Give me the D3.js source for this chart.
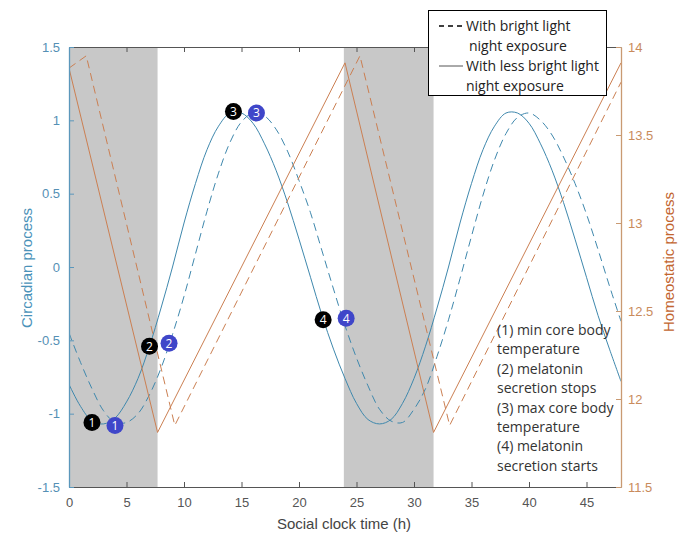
<!DOCTYPE html>
<html>
<head>
<meta charset="utf-8">
<script src="https://cdn.jsdelivr.net/npm/d3@7"></script>
<style>
  html, body { margin: 0; padding: 0; background: #fff; }
  svg { display: block; }
</style>
</head>
<body>
<svg id="chart" width="678" height="536"></svg>
<script>
// ---------- DATA ----------
const hours = d3.range(0, 49); // 0..48 h
const circadianLess = [-0.80,-0.95,-1.05,-1.07,-1.03,-0.92,-0.76,-0.54,-0.28,0.00,0.30,0.57,0.80,0.96,1.05,1.05,0.98,0.84,0.66,0.44,0.19,-0.07,-0.33,-0.56,-0.76,-0.93,-1.04,-1.07,-1.04,-0.93,-0.76,-0.54,-0.28,0.00,0.30,0.57,0.80,0.96,1.05,1.05,0.98,0.84,0.66,0.44,0.19,-0.07,-0.33,-0.56,-0.78];
const circadianBright = [-0.45,-0.65,-0.83,-0.98,-1.06,-1.06,-1.00,-0.87,-0.69,-0.46,-0.20,0.09,0.38,0.64,0.85,0.99,1.05,1.03,0.94,0.79,0.59,0.37,0.11,-0.15,-0.40,-0.62,-0.81,-0.97,-1.05,-1.06,-0.97,-0.83,-0.61,-0.36,-0.08,0.21,0.49,0.73,0.91,1.02,1.05,1.00,0.90,0.75,0.57,0.36,0.12,-0.13,-0.37];

const homeoLessX = [0, 7.7, 24.0, 31.7, 48];
const homeoLessY = [13.88, 11.81, 13.91, 11.81, 13.91];
const homeoBrightX = [0, 1.5, 9.2, 25.3, 33.1, 48];
const homeoBrightY = [13.88, 13.95, 11.85, 13.95, 11.85, 13.80];

const nights = [[0, 7.7], [23.9, 31.7]];

const markerLabels = ["1", "2", "3", "4"];
const markerLessX = [2.0, 7.0, 14.3, 22.1];
const markerLessY = [-1.06, -0.54, 1.06, -0.36];
const markerBrightX = [4.0, 8.7, 16.3, 24.1];
const markerBrightY = [-1.08, -0.52, 1.05, -0.35];

const xTicks = [0, 5, 10, 15, 20, 25, 30, 35, 40, 45];
const yLeftTicks = [-1.5, -1, -0.5, 0, 0.5, 1, 1.5];
const yRightTicks = [11.5, 12, 12.5, 13, 13.5, 14];

const legendLines = [
  {dash: true, text1: "With bright light", text2: "night exposure"},
  {dash: false, text1: "With less bright light", text2: "night exposure"}
];
const notes = ["(1) min core body", "temperature", "(2) melatonin", "secretion stops",
               "(3) max core body", "temperature", "(4) melatonin", "secretion starts"];

// ---------- LAYOUT ----------
const L = 69, R = 621, T = 47, B = 487;
const blueLine = "#3f88ad", orangeLine = "#cb7f52";
const blueAxis = "#5b97bb", orangeAxis = "#c99a72";
const svg = d3.select("#chart");

const x = d3.scaleLinear().domain([0, 48]).range([L, R]);
const yL = d3.scaleLinear().domain([-1.5, 1.5]).range([B, T]);
const yR = d3.scaleLinear().domain([11.5, 14]).range([B, T]);

svg.append("defs").append("clipPath").attr("id", "clip")
  .append("rect").attr("x", L).attr("y", T).attr("width", R - L).attr("height", B - T);

// shading
svg.append("g").selectAll("rect").data(nights).join("rect")
  .attr("x", d => x(d[0])).attr("y", T)
  .attr("width", d => x(d[1]) - x(d[0])).attr("height", B - T)
  .attr("fill", "#c8c8c8");

const plot = svg.append("g").attr("clip-path", "url(#clip)");

const lineC = d3.line().x(d => x(d[0])).y(d => yL(d[1])).curve(d3.curveCatmullRom);
const lineH = d3.line().x(d => x(d[0])).y(d => yR(d[1]));

plot.append("path").datum(hours.map((h, i) => [h, circadianLess[i]]))
  .attr("d", lineC).attr("fill", "none").attr("stroke", blueLine).attr("stroke-width", 1);
plot.append("path").datum(hours.map((h, i) => [h, circadianBright[i]]))
  .attr("d", lineC).attr("fill", "none").attr("stroke", blueLine).attr("stroke-width", 1)
  .attr("stroke-dasharray", "8,5");
plot.append("path").datum(homeoLessX.map((h, i) => [h, homeoLessY[i]]))
  .attr("d", lineH).attr("fill", "none").attr("stroke", orangeLine).attr("stroke-width", 1);
plot.append("path").datum(homeoBrightX.map((h, i) => [h, homeoBrightY[i]]))
  .attr("d", lineH).attr("fill", "none").attr("stroke", orangeLine).attr("stroke-width", 1)
  .attr("stroke-dasharray", "8,5");

// axes
const fmt = d => String(d);
const axFont = "'Liberation Sans', Arial, sans-serif";

const gx = svg.append("g").attr("transform", `translate(0,${B})`)
  .call(d3.axisBottom(x).tickValues(xTicks).tickFormat(fmt).tickSizeInner(-5).tickSizeOuter(0).tickPadding(11));
const gxt = svg.append("g").attr("transform", `translate(0,${T})`)
  .call(d3.axisTop(x).tickValues(xTicks).tickFormat("").tickSizeInner(-5).tickSizeOuter(0));
[gx, gxt].forEach(g => {
  g.select(".domain").attr("stroke", "#555");
  g.selectAll(".tick line").attr("stroke", "#555");
  g.selectAll("text").attr("fill", "#555").style("font-family", axFont).style("font-size", "13px");
});

const gl = svg.append("g").attr("transform", `translate(${L},0)`)
  .call(d3.axisLeft(yL).tickValues(yLeftTicks).tickFormat(fmt).tickSizeInner(-5).tickSizeOuter(0).tickPadding(9));
gl.select(".domain").attr("stroke", blueAxis).attr("stroke-width", 1.3);
gl.selectAll(".tick line").attr("stroke", blueAxis);
gl.selectAll("text").attr("fill", "#5590b5").style("font-family", axFont).style("font-size", "13px");

const gr = svg.append("g").attr("transform", `translate(${R},0)`)
  .call(d3.axisRight(yR).tickValues(yRightTicks).tickFormat(fmt).tickSizeInner(-5).tickSizeOuter(0).tickPadding(7));
gr.select(".domain").attr("stroke", orangeAxis).attr("stroke-width", 1.3);
gr.selectAll(".tick line").attr("stroke", orangeAxis);
gr.selectAll("text").attr("fill", "#c98b5c").style("font-family", axFont).style("font-size", "13px");

// axis titles
svg.append("text").attr("x", 344).attr("y", 529).attr("text-anchor", "middle")
  .attr("fill", "#444").style("font-family", axFont).style("font-size", "15px")
  .text("Social clock time (h)");
svg.append("text").attr("transform", "translate(32,268) rotate(-90)").attr("text-anchor", "middle")
  .attr("fill", "#4a92b9").style("font-family", axFont).style("font-size", "15px")
  .text("Circadian process");
svg.append("text").attr("transform", "translate(674,262) rotate(-90)").attr("text-anchor", "middle")
  .attr("fill", "#c2652f").style("font-family", axFont).style("font-size", "15px")
  .text("Homeostatic process");

// markers
function drawMarkers(xs, ys, color) {
  const g = svg.append("g").selectAll("g").data(markerLabels).join("g")
    .attr("transform", (d, i) => `translate(${x(xs[i])},${yL(ys[i])})`);
  g.append("circle").attr("r", 8.5).attr("fill", color);
  g.append("text").attr("text-anchor", "middle").attr("dy", "0.36em")
    .attr("fill", "#fff").style("font-family", "'Open Sans', sans-serif").style("font-size", "12px")
    .text(d => d);
}
drawMarkers(markerLessX, markerLessY, "#000");
drawMarkers(markerBrightX, markerBrightY, "#3f46c9");

// annotation text
const noteFont = "'Open Sans', sans-serif";
svg.append("g").selectAll("text").data(notes).join("text")
  .attr("x", 497).attr("y", (d, i) => 335 + i * 19.4)
  .attr("fill", "#333").style("font-family", noteFont).style("font-size", "14px")
  .text(d => d);

// legend
const lg = svg.append("g");
lg.append("rect").attr("x", 428.5).attr("y", 10.5).attr("width", 178).attr("height", 85)
  .attr("fill", "#fff").attr("stroke", "#000").attr("stroke-width", 1);
legendLines.forEach((d, i) => {
  const y0 = 26 + i * 40;
  lg.append("line").attr("x1", 439).attr("x2", 463).attr("y1", y0).attr("y2", y0)
    .attr("stroke", d.dash ? "#000" : "#555").attr("stroke-width", d.dash ? 1.5 : 1)
    .attr("stroke-dasharray", d.dash ? "5,4" : null);
  lg.append("text").attr("x", 466).attr("y", y0 + 5).attr("fill", "#222")
    .style("font-family", noteFont).style("font-size", "14px").text(d.text1);
  lg.append("text").attr("x", i === 0 ? 469 : 466).attr("y", y0 + 25).attr("fill", "#222")
    .style("font-family", noteFont).style("font-size", "14px").text(d.text2);
});
</script>
</body>
</html>
